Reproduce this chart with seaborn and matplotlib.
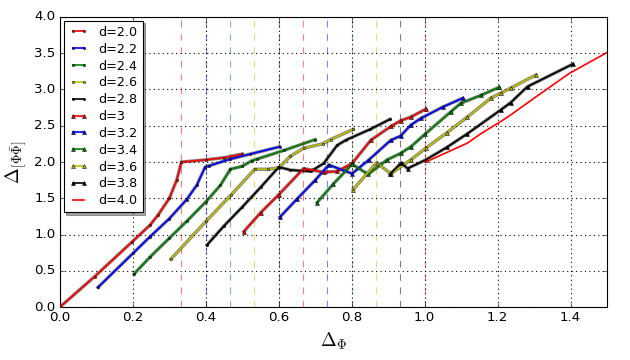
import numpy as np
import pandas as pd
import matplotlib
matplotlib.use('Agg')
import matplotlib.pyplot as plt
import seaborn as sns

# curves: Delta_[Phi Phibar] against Delta_Phi, one per dimension d
dims = ['2.0', '2.2', '2.4', '2.6', '2.8', '3', '3.2', '3.4', '3.6', '3.8', '4.0']
xs = [
    [0, 0.095, 0.198, 0.247, 0.269, 0.30, 0.32, 0.333, 0.40, 0.45, 0.5],
    [0.104, 0.2, 0.247, 0.3, 0.347, 0.375, 0.398, 0.41, 0.467, 0.522, 0.602],
    [0.203, 0.247, 0.3, 0.347, 0.4, 0.44, 0.467, 0.499, 0.527, 0.54, 0.614, 0.70],
    [0.304, 0.4, 0.47, 0.534, 0.57, 0.6, 0.632, 0.668, 0.72, 0.742, 0.804],
    [0.403, 0.45, 0.5, 0.55, 0.6, 0.632, 0.687, 0.723, 0.76, 0.783, 0.85, 0.905],
    [0.504, 0.55, 0.6, 0.668, 0.723, 0.76, 0.801, 0.852, 0.907, 0.934, 0.962, 1.003],
    [0.603, 0.65, 0.7, 0.737, 0.801, 0.847, 0.907, 0.934, 0.962, 0.989, 1.05, 1.104],
    [0.705, 0.75, 0.801, 0.845, 0.897, 0.934, 0.962, 1.0, 1.071, 1.099, 1.154, 1.204],
    [0.804, 0.868, 0.907, 0.962, 1.003, 1.06, 1.117, 1.181, 1.209, 1.236, 1.305],
    [0.905, 0.936, 0.953, 1.003, 1.06, 1.117, 1.209, 1.236, 1.282, 1.406],
    [1.003, 1.117, 1.154, 1.209, 1.236, 1.30, 1.396, 1.5],
]
ys = [
    [0, 0.42, 0.90, 1.13, 1.27, 1.50, 1.75, 2.0, 2.03, 2.06, 2.11],
    [0.27, 0.74, 0.97, 1.22, 1.48, 1.68, 1.93, 1.95, 2.04, 2.11, 2.21],
    [0.455, 0.69, 0.95, 1.18, 1.45, 1.68, 1.90, 1.94, 2.02, 2.04, 2.16, 2.31],
    [0.66, 1.18, 1.55, 1.90, 1.90, 1.92, 2.08, 2.19, 2.25, 2.31, 2.45],
    [0.855, 1.12, 1.38, 1.65, 1.93, 1.89, 1.87, 1.98, 2.23, 2.30, 2.45, 2.59],
    [1.04, 1.30, 1.55, 1.91, 1.86, 1.87, 1.98, 2.30, 2.49, 2.57, 2.62, 2.73],
    [1.24, 1.49, 1.75, 1.96, 1.84, 2.03, 2.30, 2.36, 2.51, 2.60, 2.76, 2.88],
    [1.44, 1.70, 1.97, 1.83, 2.03, 2.12, 2.21, 2.38, 2.69, 2.81, 2.92, 3.03],
    [1.62, 1.99, 1.84, 2.03, 2.19, 2.40, 2.62, 2.88, 2.95, 3.02, 3.20],
    [1.83, 1.99, 1.91, 2.03, 2.20, 2.39, 2.72, 2.82, 3.04, 3.35],
    [2.0, 2.26, 2.39, 2.56, 2.65, 2.88, 3.22, 3.51],
]
# dashed guide lines at Delta_Phi = (d-1)/3
guide_x = [0.333, 0.4, 0.467, 0.533, 0.6, 0.667, 0.733, 0.8, 0.867, 0.933, 1.0]

colors = ['r', 'b', 'g', 'y', 'k']
markers = ['.'] * 5 + ['^'] * 5 + [None]

plt.style.use('classic')
plt.rcParams['mathtext.fontset'] = 'cm'
plt.rcParams['font.family'] = ['DejaVu Sans']

fig = plt.figure(figsize=(7.875, 4.5), dpi=80)
fig.patch.set_facecolor('white')
ax = fig.add_axes([0.0952, 0.1472, 0.8683, 0.8056])

for i, d in enumerate(dims):
    c = colors[i % 5]
    ax.axvline(guide_x[i], color=c, ls='--', alpha=0.5, lw=1, zorder=1)

for i, d in enumerate(dims):
    c = colors[i % 5]
    df = pd.DataFrame({'x': xs[i], 'y': ys[i]})
    if markers[i] is None:
        sns.lineplot(data=df, x='x', y='y', sort=False, color=c, ax=ax,
                     label='d=' + d, lw=1.5, zorder=3)
        continue
    # dark outline under the coloured line, like the dense black-edged markers
    sns.lineplot(data=df, x='x', y='y', sort=False, color='k', alpha=0.5,
                 ax=ax, lw=3, legend=False, zorder=2)
    sns.lineplot(data=df, x='x', y='y', sort=False, color=c, ax=ax,
                 label='d=' + d, lw=1.5, zorder=3, marker=markers[i],
                 ms=4 if markers[i] == '.' else 3.5, mec='k', mew=0.5)

ax.set_xlim(0, 1.5)
ax.set_ylim(0, 4.0)
ax.set_xticks(np.arange(0, 1.41, 0.2))
ax.set_yticks(np.arange(0, 4.01, 0.5))
ax.grid(True, ls=':', color='k', lw=1)
ax.set_xlabel(r'$\Delta_\Phi$', fontsize=17)
ax.set_ylabel(r'$\Delta_{[\Phi\bar{\Phi}]}$', fontsize=17)
ax.tick_params(labelsize=12)
ax.legend(loc='upper left', fontsize=11.5, shadow=True, numpoints=2,
          handlelength=1.5, labelspacing=0.3, borderaxespad=0.3)

fig.savefig('out.png', dpi=80, facecolor='white')
